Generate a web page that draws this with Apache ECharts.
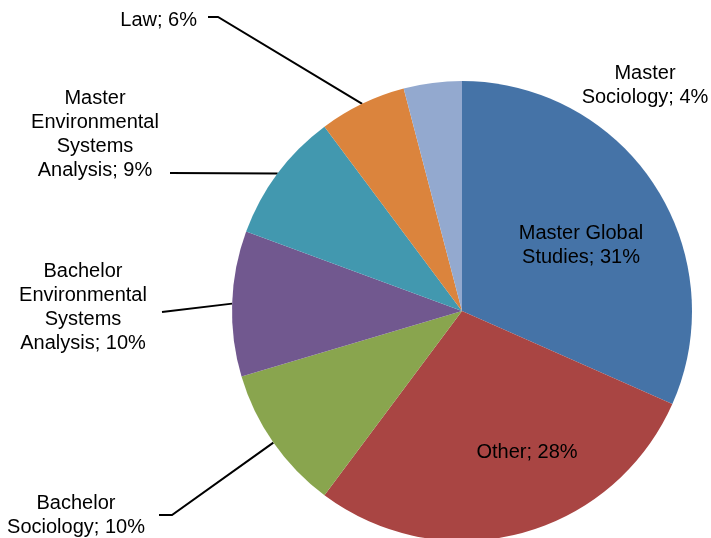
<!DOCTYPE html>
<html>
<head>
<meta charset="utf-8">
<title>Students by programme</title>
<script src="https://cdn.jsdelivr.net/npm/echarts@6/dist/echarts.min.js"></script>
<style>
  html, body { margin: 0; padding: 0; background: #fff; }
  #chart { width: 711px; height: 538px; }
</style>
</head>
<body>
<div id="chart"></div>
<script>
// Programme shares, clockwise from 12 o'clock
const categories = [
  'Master Global Studies',
  'Other',
  'Bachelor Sociology',
  'Bachelor Environmental Systems Analysis',
  'Master Environmental Systems Analysis',
  'Law',
  'Master Sociology'
];
const shares = [31, 28, 10, 10, 9, 6, 4];

// How each label's name is wrapped onto lines
const wrappedNames = [
  'Master Global\nStudies',
  'Other',
  'Bachelor\nSociology',
  'Bachelor\nEnvironmental\nSystems\nAnalysis',
  'Master\nEnvironmental\nSystems\nAnalysis',
  'Law',
  'Master\nSociology'
];

const colors = ['#4573a7', '#a94543', '#89a54e', '#71588f', '#4298af', '#db843d', '#93a9cf'];

// Label placement: text anchor, alignment and leader-line bend points (null = no leader)
const labelPlacement = [
  { x: 581, y: 245, align: 'center', bend: null },
  { x: 527, y: 452, align: 'center', bend: null },
  { x: 76,  y: 515, align: 'center', bend: [[172, 515], [159, 515]] },
  { x: 83,  y: 307, align: 'center', bend: [[162, 312], [162, 312]] },
  { x: 95,  y: 134, align: 'center', bend: [[170, 173], [170, 173]] },
  { x: 197, y: 20,  align: 'right',  bend: [[218, 17], [208, 17]] },
  { x: 645, y: 85,  align: 'center', bend: null }
];

const data = categories.map((name, i) => ({
  name: name,
  value: shares[i],
  itemStyle: { color: colors[i] },
  label: { formatter: wrappedNames[i] + '; ' + shares[i] + '%' },
  labelLine: { show: labelPlacement[i].bend !== null }
}));

const chart = echarts.init(document.getElementById('chart'), null, { renderer: 'canvas' });

chart.setOption({
  backgroundColor: '#ffffff',
  animation: false,
  series: [{
    type: 'pie',
    center: [462, 311],
    radius: 230,
    startAngle: 90,
    clockwise: true,
    avoidLabelOverlap: false,
    itemStyle: { borderWidth: 0 },
    label: {
      show: true,
      position: 'outside',
      color: '#000',
      fontFamily: 'Liberation Sans, Arial, sans-serif',
      fontSize: 20,
      lineHeight: 24,
      align: 'center'
    },
    labelLine: {
      show: true,
      length: 20,
      length2: 10,
      smooth: false,
      lineStyle: { color: '#000', width: 2 }
    },
    labelLayout: function (params) {
      const p = labelPlacement[params.dataIndex];
      const out = {
        x: p.x,
        y: p.y,
        align: p.align,
        verticalAlign: 'middle'
      };
      if (p.bend && params.labelLinePoints) {
        out.labelLinePoints = [params.labelLinePoints[0], p.bend[0], p.bend[1]];
      }
      return out;
    },
    data: data
  }]
});
</script>
</body>
</html>
